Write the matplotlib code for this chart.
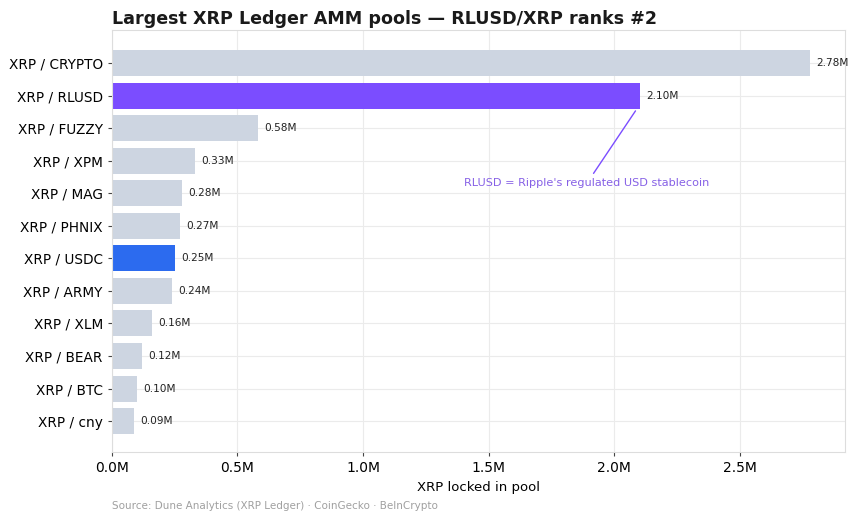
import numpy as np
import matplotlib.pyplot as plt
from matplotlib.ticker import FuncFormatter

pools = ['XRP / CRYPTO', 'XRP / RLUSD', 'XRP / FUZZY', 'XRP / XPM', 'XRP / MAG',
         'XRP / PHNIX', 'XRP / USDC', 'XRP / ARMY', 'XRP / XLM', 'XRP / BEAR',
         'XRP / BTC', 'XRP / cny']
xrp_locked = [2.78e6, 2.10e6, 0.58e6, 0.33e6, 0.28e6, 0.27e6, 0.25e6, 0.24e6,
              0.16e6, 0.12e6, 0.10e6, 0.09e6]

grey = '#cdd5e1'
colors = [grey] * len(pools)
colors[pools.index('XRP / RLUSD')] = '#7b4dff'
colors[pools.index('XRP / USDC')] = '#2c6bef'

fig = plt.figure(figsize=(8.6, 5.25), dpi=100)
ax = fig.add_axes([0.130, 0.139, 0.853, 0.803])

y = np.arange(len(pools))
ax.barh(y, xrp_locked, height=0.8, color=colors, zorder=2)
for yi, v in zip(y, xrp_locked):
    ax.text(v + 0.025e6, yi, f'{v / 1e6:.2f}M', va='center', ha='left',
            fontsize=7.6, color='#222222')

ax.set_yticks(y)
ax.set_yticklabels(pools, fontsize=9.8)
ax.set_ylim(len(pools) - 0.05, -1.0)
ax.set_xlim(0, max(xrp_locked) * 1.05)
ax.set_xticks(np.arange(0, 3.0e6, 0.5e6))
ax.xaxis.set_major_formatter(FuncFormatter(lambda v, p: f'{v / 1e6:.1f}M'))
ax.tick_params(axis='x', labelsize=10, length=3, color='#444444')
ax.tick_params(axis='y', length=3, color='#444444')
ax.set_xlabel('XRP locked in pool', fontsize=9.5)
ax.grid(True, color='#ebebeb', linewidth=0.8, zorder=0)
ax.set_axisbelow(True)
for s in ax.spines.values():
    s.set_color('#dddddd')

ax.set_title('Largest XRP Ledger AMM pools — RLUSD/XRP ranks #2', loc='left',
             fontsize=12.6, fontweight='bold', color='#1a1a1a', pad=5)

rl = pools.index('XRP / RLUSD')
ax.annotate("RLUSD = Ripple's regulated USD stablecoin",
            xy=(xrp_locked[rl] - 0.01e6, rl + 0.4), xytext=(1.89e6, 3.7),
            ha='center', va='center', fontsize=8.1, color='#8660e6',
            arrowprops=dict(arrowstyle='-', color='#7b4dff', lw=1.0))

fig.text(0.130, 0.030, 'Source: Dune Analytics (XRP Ledger) · CoinGecko · BeInCrypto',
         fontsize=7.5, color='#a0a0a0')

fig.savefig('out.png', dpi=100)
